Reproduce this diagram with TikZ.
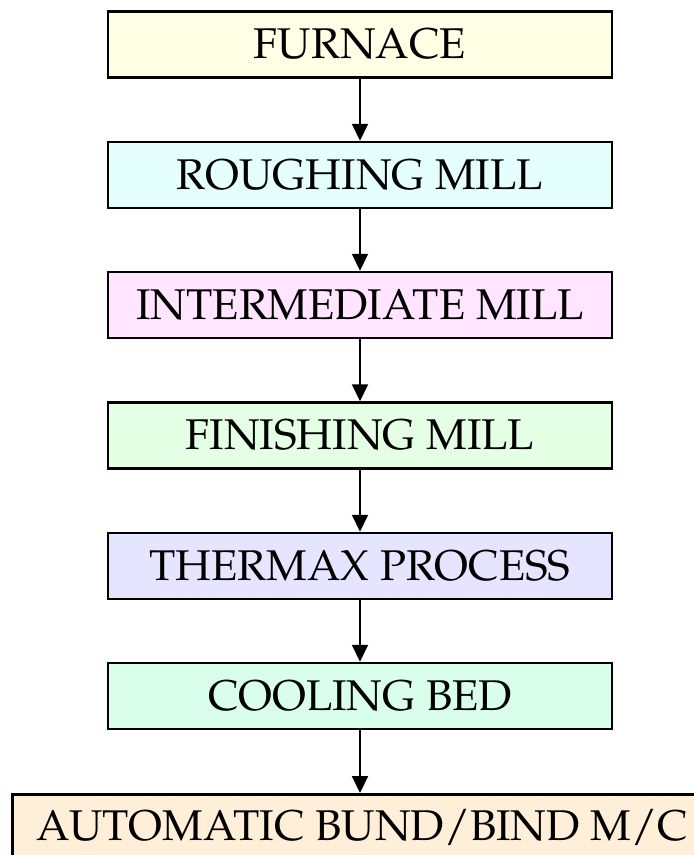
\documentclass[tikz,border=0pt]{standalone}
\usepackage[T1]{fontenc}
\usepackage{mathpazo}
\usetikzlibrary{arrows.meta}
\definecolor{cfurn}{HTML}{FFFFE5}
\definecolor{crough}{HTML}{E5FFFF}
\definecolor{cinter}{HTML}{FFE5FF}
\definecolor{cfin}{HTML}{E5FFE5}
\definecolor{ctherm}{HTML}{E5E5FF}
\definecolor{ccool}{HTML}{D9FFEC}
\definecolor{cauto}{HTML}{FFEFD9}
\begin{document}
\begin{tikzpicture}[x=1pt,y=-1pt,
  stagebox/.style={draw=black,line width=2.5pt,minimum width=504pt,minimum height=66pt,inner sep=0pt,
    font=\fontsize{43}{50}\selectfont},
  flow/.style={line width=2pt,-{Triangle[width=16pt,length=17pt]}}]
\useasboundingbox (0,0) rectangle (694,855);
\begin{scope}
\clip (0,0) rectangle (694,855);
\node[stagebox,fill=cfurn]  (furn)  at (360,44.5) {FURNACE};
\node[stagebox,fill=crough] (rough) at (360,175)  {ROUGHING MILL};
\node[stagebox,fill=cinter] (inter) at (360,305)  {INTERMEDIATE MILL};
\node[stagebox,fill=cfin]   (fin)   at (360,435.5) {FINISHING MILL};
\node[stagebox,fill=ctherm] (therm) at (360,566)  {THERMAX PROCESS};
\node[stagebox,fill=ccool]  (cool)  at (360,696)  {COOLING BED};
\node[stagebox,fill=cauto,minimum width=700pt,minimum height=80pt,anchor=north west] (auto) at (11,793) {};
\node[font=\fontsize{43}{50}\selectfont] (autotxt) at (362,828) {AUTOMATIC BUND/BIND M/C};
\end{scope}
\draw[flow] (furn) -- (rough);
\draw[flow] (rough) -- (inter);
\draw[flow] (inter) -- (fin);
\draw[flow] (fin) -- (therm);
\draw[flow] (therm) -- (cool);
\draw[flow] (cool.south) -- (cool.south |- auto.north);
\end{tikzpicture}
\end{document}
